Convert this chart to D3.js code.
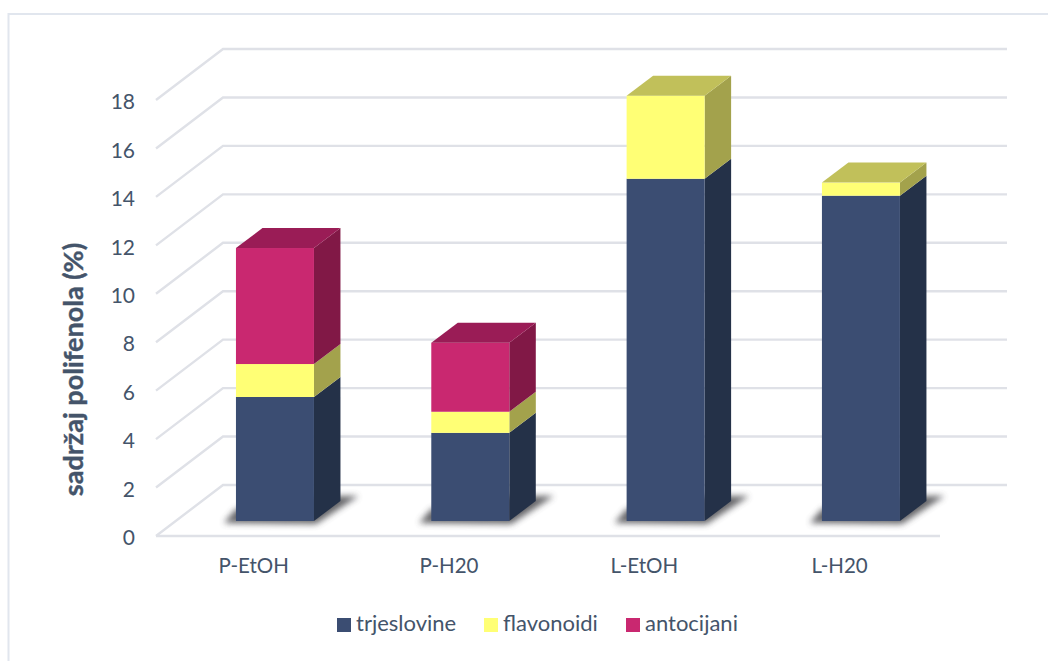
<!DOCTYPE html>
<html>
<head>
<meta charset="utf-8">
<script src="https://cdn.jsdelivr.net/npm/d3@7"></script>
<style>
  html, body { margin: 0; padding: 0; background: #fff; }
  svg { display: block; font-family: Lato, "Open Sans", sans-serif; }
  text { fill: #44546a; }
</style>
</head>
<body>
<div class="root"></div>
<script>
const categories = ["P-EtOH", "P-H20", "L-EtOH", "L-H20"];
const trjeslovine = [5.12, 3.64, 14.13, 13.43];
const flavonoidi = [1.36, 0.87, 3.43, 0.54];
const antocijani = [4.79, 2.85, 0, 0];
const seriesNames = ["trjeslovine", "flavonoidi", "antocijani"];
const yTicks = [0, 2, 4, 6, 8, 10, 12, 14, 16, 18];

const width = 1048;
const height = 661;

// face colours per series: front, side, top
const colors = {
  trjeslovine: ["#3b4d72", "#243148", "#2f3d5a"],
  flavonoidi: ["#ffff75", "#a3a24c", "#c1c05a"],
  antocijani: ["#c92870", "#811846", "#9a1c56"]
};

const svg = d3
  .select("div.root")
  .append("svg")
  .attr("width", width)
  .attr("height", height);

const defs = svg.append("defs");
defs
  .append("filter")
  .attr("id", "blur")
  .attr("x", "-30%")
  .attr("y", "-50%")
  .attr("width", "160%")
  .attr("height", "200%")
  .append("feGaussianBlur")
  .attr("stdDeviation", 3);

// chart frame
svg
  .append("rect")
  .attr("x", 8.5)
  .attr("y", 14)
  .attr("width", 1060)
  .attr("height", 680)
  .attr("fill", "none")
  .attr("stroke", "#e1e6ee")
  .attr("stroke-width", 2);

const y = d3.scaleLinear().domain([0, 18]).range([536, 100]);
const x = d3.scaleBand().domain(categories).range([156, 937.3]);

// oblique depth of the 3D box
const depthX = 67;
const depthY = -51;
const floorEnd = 940;
const rightEnd = 1007;

const gridColor = "#dfe1e7";
const grid = svg.append("g").attr("fill", "none").attr("stroke", gridColor).attr("stroke-width", 2.4);

yTicks.forEach(t => {
  const p = d3.path();
  p.moveTo(x.range()[0], y(t));
  p.lineTo(x.range()[0] + depthX, y(t) + depthY);
  p.lineTo(rightEnd, y(t) + depthY);
  grid.append("path").attr("d", p);
});
grid
  .append("line")
  .attr("x1", x.range()[0])
  .attr("x2", floorEnd)
  .attr("y1", y(0))
  .attr("y2", y(0));

// bars sit inside the floor, a bit behind the front edge
const barW = 78;
const barShift = 21.3;
const barLift = 15;
const sideX = 26.5;
const sideY = -20;

const rows = categories.map((c, i) => ({
  cat: c,
  trjeslovine: trjeslovine[i],
  flavonoidi: flavonoidi[i],
  antocijani: antocijani[i]
}));
const stacked = d3.stack().keys(seriesNames)(rows);

const barX = c => x(c) + x.bandwidth() / 2 + barShift - barW / 2;
const valY = v => y(v) - barLift;
const poly = pts => pts.map(q => q.join(",")).join(" ");

// floor shadows
svg
  .append("g")
  .selectAll("polygon")
  .data(categories)
  .join("polygon")
  .attr("points", c => {
    const b = barX(c);
    const r = b + barW;
    return poly([
      [b - 12, valY(0) + 2],
      [r + 2, valY(0) + 3],
      [r + sideX + 18, valY(0) + sideY - 5],
      [r, valY(0) + sideY - 5],
      [b, valY(0) - 12]
    ]);
  })
  .attr("fill", "#4c4c50")
  .attr("opacity", 0.85)
  .attr("filter", "url(#blur)");

const bars = svg.append("g");
stacked.forEach(s => {
  const c = colors[s.key];
  const g = bars.append("g");
  const cells = s.filter(d => d[1] > d[0]);
  // side face
  g.selectAll("polygon.side")
    .data(cells)
    .join("polygon")
    .attr("class", "side")
    .attr("points", d => {
      const r = barX(d.data.cat) + barW;
      return poly([
        [r, valY(d[0])],
        [r + sideX, valY(d[0]) + sideY],
        [r + sideX, valY(d[1]) + sideY],
        [r, valY(d[1])]
      ]);
    })
    .attr("fill", c[1]);
  // front face
  g.selectAll("rect")
    .data(cells)
    .join("rect")
    .attr("x", d => barX(d.data.cat))
    .attr("y", d => valY(d[1]))
    .attr("width", barW)
    .attr("height", d => valY(d[0]) - valY(d[1]))
    .attr("fill", c[0]);
});

// top lid takes the colour of the highest series of each bar
bars
  .append("g")
  .selectAll("polygon")
  .data(categories)
  .join("polygon")
  .attr("points", (c, i) => {
    const l = barX(c);
    const t = valY(trjeslovine[i] + flavonoidi[i] + antocijani[i]);
    return poly([
      [l, t],
      [l + barW, t],
      [l + barW + sideX, t + sideY],
      [l + sideX, t + sideY]
    ]);
  })
  .attr("fill", (c, i) => (antocijani[i] > 0 ? colors.antocijani[2] : colors.flavonoidi[2]));

// axes
const yAxis = d3.axisLeft(y).tickValues(yTicks).tickSize(0).tickPadding(0);
svg
  .append("g")
  .attr("transform", "translate(135,2)")
  .call(yAxis)
  .call(g => g.select(".domain").remove())
  .call(g => g.selectAll("text").attr("fill", "#44546a").style("font-size", "21px").style("font-family", "Lato"));

const xAxis = d3.axisBottom(x).tickSize(0).tickPadding(0);
svg
  .append("g")
  .attr("transform", "translate(0,558)")
  .call(xAxis)
  .call(g => g.select(".domain").remove())
  .call(g => g.selectAll("text").attr("fill", "#44546a").style("font-size", "20.5px").style("font-family", "Lato"));

svg
  .append("text")
  .attr("transform", "translate(83,369.5) rotate(-90)")
  .attr("text-anchor", "middle")
  .attr("stroke", "#44546a")
  .attr("stroke-width", 0.4)
  .style("font-size", "27px")
  .style("font-weight", "700")
  .text("sadržaj polifenola (%)");

// legend
const legendSwatchX = [337, 484, 626];
const legend = svg.append("g");
seriesNames.forEach((n, i) => {
  legend
    .append("rect")
    .attr("x", legendSwatchX[i])
    .attr("y", 618)
    .attr("width", 14)
    .attr("height", 14)
    .attr("fill", colors[n][0]);
  legend
    .append("text")
    .attr("x", legendSwatchX[i] + 19)
    .attr("y", 631)
    .style("font-size", "22px")
    .text(n);
});
</script>
</body>
</html>
